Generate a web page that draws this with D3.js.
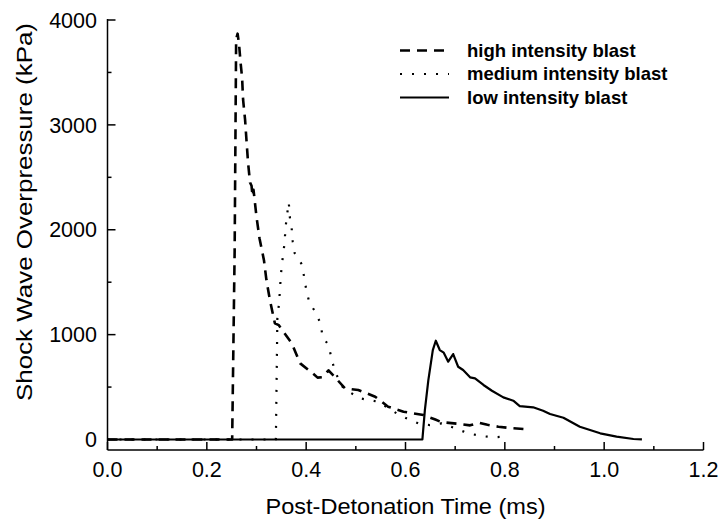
<!DOCTYPE html>
<html>
<head>
<meta charset="utf-8">
<script src="https://cdn.jsdelivr.net/npm/d3@7"></script>
<style>
  html, body { margin: 0; padding: 0; background: #fff; }
  svg { display: block; }
  text { font-family: Arial, "Liberation Sans", Helvetica, sans-serif; fill: #000; }
</style>
</head>
<body>
<div id="chart"></div>
<script>
// ---------- data (time in ms, overpressure in kPa) ----------
const highT = [0, 0.10, 0.20, 0.251, 0.256, 0.259, 0.262, 0.265, 0.268, 0.271, 0.273, 0.277, 0.280, 0.283, 0.287, 0.290, 0.292, 0.294, 0.300, 0.306, 0.315, 0.320, 0.327, 0.337, 0.345, 0.351, 0.371, 0.388, 0.411, 0.423, 0.433, 0.445, 0.455, 0.478, 0.505, 0.539, 0.565, 0.596, 0.636, 0.660, 0.673, 0.706, 0.730, 0.747, 0.765, 0.787, 0.810, 0.840];
const highP = [0, 0, 0, 0, 1800, 3820, 3870, 3760, 3590, 3450, 3240, 3050, 2840, 2640, 2450, 2420, 2320, 2380, 2124, 1920, 1710, 1520, 1330, 1108, 1090, 1050, 917, 726, 640, 590, 595, 660, 610, 488, 472, 408, 313, 265, 234, 190, 165, 150, 135, 160, 140, 122, 110, 100];

const medT = [0, 0.10, 0.20, 0.30, 0.339, 0.342, 0.345, 0.347, 0.349, 0.353, 0.356, 0.358, 0.360, 0.365, 0.367, 0.371, 0.373, 0.377, 0.390, 0.396, 0.400, 0.406, 0.418, 0.429, 0.433, 0.445, 0.451, 0.458, 0.475, 0.508, 0.545, 0.582, 0.602, 0.626, 0.649, 0.673, 0.700, 0.726, 0.753, 0.777, 0.800];
const medP = [0, 0, 0, 0, 0, 1155, 1282, 1409, 1568, 1743, 1854, 1981, 2092, 2260, 2124, 2004, 1886, 1775, 1680, 1552, 1432, 1314, 1218, 1108, 980, 901, 774, 646, 488, 393, 360, 250, 202, 154, 138, 154, 107, 59, 33, 21, 27];

const lowT = [0, 0.10, 0.20, 0.30, 0.40, 0.50, 0.634, 0.639, 0.646, 0.655, 0.661, 0.669, 0.677, 0.686, 0.696, 0.706, 0.716, 0.730, 0.740, 0.757, 0.774, 0.797, 0.817, 0.830, 0.857, 0.877, 0.891, 0.918, 0.951, 0.992, 1.025, 1.059, 1.076];
const lowP = [0, 0, 0, 0, 0, 0, 0, 281, 567, 853, 942, 853, 828, 742, 815, 694, 663, 593, 583, 520, 465, 402, 370, 319, 307, 275, 243, 208, 122, 59, 27, 5, 2];

const seriesNames = ["high intensity blast", "medium intensity blast", "low intensity blast"];
const xTickValues = [0, 0.2, 0.4, 0.6, 0.8, 1.0, 1.2];
const xMinorValues = [0.1, 0.3, 0.5, 0.7, 0.9, 1.1];
const yTickValues = [0, 1000, 2000, 3000, 4000];
const yMinorValues = [500, 1500, 2500, 3500];
const xTitle = "Post-Detonation Time (ms)";
const yTitle = "Shock Wave Overpressure (kPa)";

(function () {
  // ---------- layout ----------
  const W = 719, H = 522;
  const pLeft = 107.5, pRight = 703.5, pTop = 20, pBottom = 450;

  const svg = d3.select("#chart").append("svg").attr("width", W).attr("height", H);

  const x = d3.scaleLinear().domain([0, 1.2]).range([pLeft, pRight]);
  const y = d3.scaleLinear().domain([-100, 4000]).range([pBottom, pTop]);

  const styles = [
    { dash: "10,7", width: 2.6 },
    { dash: "2,10", width: 2.2 },
    { dash: null, width: 2.2 }
  ];

  const data = [
    highT.map((t, i) => [t, highP[i]]),
    medT.map((t, i) => [t, medP[i]]),
    lowT.map((t, i) => [t, lowP[i]])
  ];

  const line = d3.line().x(d => x(d[0])).y(d => y(d[1]));

  [2, 1, 0].forEach(k => {
    svg.append("path")
      .datum(data[k])
      .attr("d", line)
      .attr("fill", "none")
      .attr("stroke", "#000")
      .attr("stroke-width", styles[k].width)
      .attr("stroke-linejoin", "round")
      .attr("stroke-dasharray", styles[k].dash);
  });

  // ---------- axes ----------
  const fontTick = "21.5px";
  const xAxis = svg.append("g").attr("transform", `translate(0,${pBottom})`);
  xAxis.append("line").attr("x1", pLeft).attr("x2", pRight).attr("y1", 0).attr("y2", 0)
    .attr("stroke", "#000").attr("stroke-width", 1.5);
  xAxis.selectAll("line.maj").data(xTickValues).enter().append("line")
    .attr("class", "maj")
    .attr("x1", d => x(d)).attr("x2", d => x(d)).attr("y1", 0).attr("y2", -8)
    .attr("stroke", "#000").attr("stroke-width", 1.5);
  xAxis.selectAll("line.min").data(xMinorValues).enter().append("line")
    .attr("class", "min")
    .attr("x1", d => x(d)).attr("x2", d => x(d)).attr("y1", 0).attr("y2", -4)
    .attr("stroke", "#000").attr("stroke-width", 1.5);
  xAxis.selectAll("text").data(xTickValues).enter().append("text")
    .attr("x", d => x(d)).attr("y", 27)
    .attr("text-anchor", "middle")
    .style("font-size", fontTick)
    .text(d => d3.format(".1f")(d));

  const yAxis = svg.append("g").attr("transform", `translate(${pLeft},0)`);
  yAxis.append("line").attr("x1", 0).attr("x2", 0).attr("y1", pTop - 1).attr("y2", pBottom)
    .attr("stroke", "#000").attr("stroke-width", 1.5);
  yAxis.selectAll("line.maj").data(yTickValues).enter().append("line")
    .attr("class", "maj")
    .attr("x1", 0).attr("x2", 8).attr("y1", d => y(d)).attr("y2", d => y(d))
    .attr("stroke", "#000").attr("stroke-width", 1.5);
  yAxis.selectAll("line.min").data(yMinorValues).enter().append("line")
    .attr("class", "min")
    .attr("x1", 0).attr("x2", 4).attr("y1", d => y(d)).attr("y2", d => y(d))
    .attr("stroke", "#000").attr("stroke-width", 1.5);
  yAxis.selectAll("text").data(yTickValues).enter().append("text")
    .attr("x", -10.5).attr("y", d => y(d)).attr("dy", "0.36em")
    .attr("text-anchor", "end")
    .style("font-size", fontTick)
    .text(d => d);

  svg.append("text")
    .attr("x", (pLeft + pRight) / 2).attr("y", 514)
    .attr("text-anchor", "middle")
    .attr("textLength", 280)
    .attr("lengthAdjust", "spacingAndGlyphs")
    .style("font-size", "22px")
    .text(xTitle);

  svg.append("text")
    .attr("transform", `translate(32,212) rotate(-90)`)
    .attr("text-anchor", "middle")
    .attr("textLength", 378)
    .attr("lengthAdjust", "spacingAndGlyphs")
    .style("font-size", "22.5px")
    .text(yTitle);

  // ---------- legend ----------
  const legendBase = [56.5, 80, 103.5];
  const legend = svg.append("g");
  seriesNames.forEach((name, k) => {
    const ly = legendBase[k] - 6;
    legend.append("line")
      .attr("x1", 400).attr("x2", 449).attr("y1", ly).attr("y2", ly)
      .attr("stroke", "#000")
      .attr("stroke-width", styles[k].width)
      .attr("stroke-dasharray", styles[k].dash);
    legend.append("text")
      .attr("x", 467).attr("y", legendBase[k])
      .style("font-size", "18.5px")
      .style("font-weight", "bold")
      .text(name);
  });
})();
</script>
</body>
</html>
